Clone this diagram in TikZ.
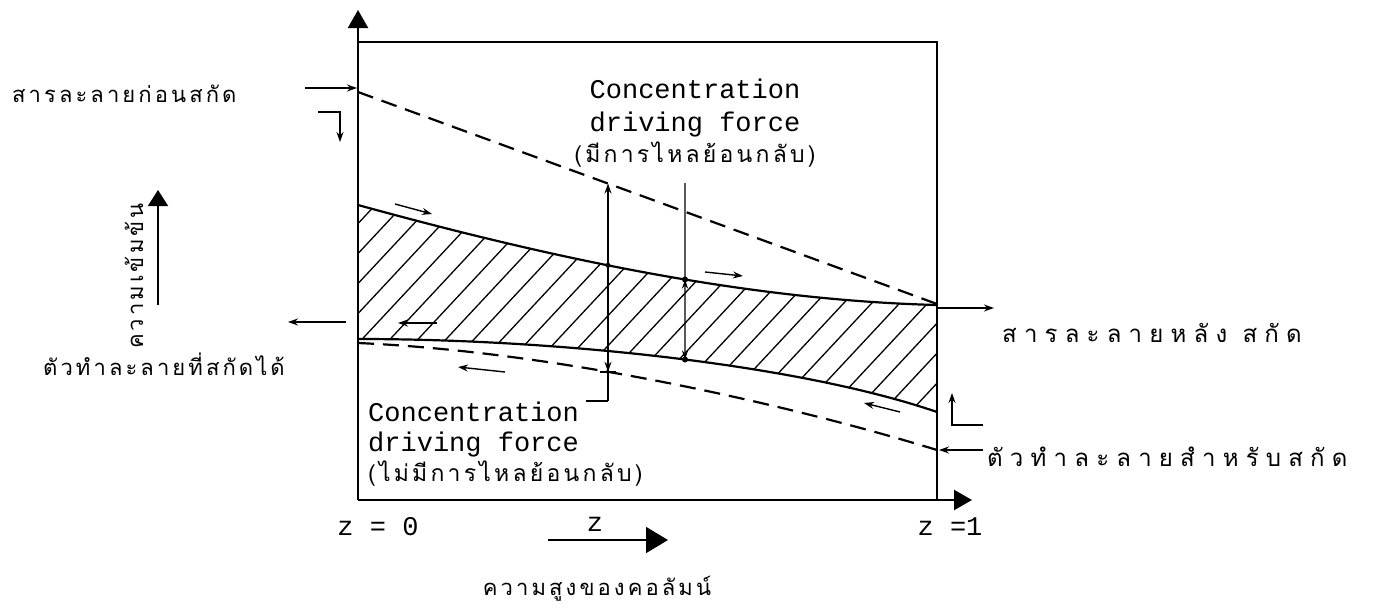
\documentclass[tikz,border=0pt]{standalone}
\usepackage{fontspec}
\setmainfont{Liberation Serif}
\setmonofont{Liberation Mono}
\newfontfamily\thaiwide[Script=Thai,LetterSpace=14]{Loma}
\newfontfamily\thaiwider[Script=Thai,LetterSpace=30]{Loma}
\usetikzlibrary{arrows.meta,intersections,calc}
\begin{document}
\begin{tikzpicture}[x=1pt,y=-1pt,
  frame/.style={line width=2.2pt},
  curve/.style={line width=2.2pt},
  dashcurve/.style={line width=2.2pt,dash pattern=on 16pt off 9pt},
  thinl/.style={line width=1.4pt},
  sarrow/.style={line width=1.4pt,-{Stealth[length=10pt,width=7pt]}},
  bigarrow/.style={line width=2.2pt,-{Triangle[length=18pt,width=20pt]}},
  hatch/.style={line width=1.3pt},
  thaitxt/.style={font=\thaiwide\fontsize{22}{24}\selectfont,inner sep=0pt},
  thaibig/.style={font=\thaiwider\fontsize{24}{26}\selectfont,inner sep=0pt},
  monotxt/.style={font=\ttfamily\fontsize{27}{30}\selectfont,inner sep=0pt},
]
\useasboundingbox (0,0) rectangle (1377,608);
\fill[white] (0,0) rectangle (1377,608);

% frame and axes
\coordinate (O) at (358,500);
\coordinate (Ytop) at (358,10);
\coordinate (Xend) at (972,500);
\coordinate (TL) at (358,42);
\coordinate (TR) at (937,42);
\coordinate (BR) at (937,500);
\draw[bigarrow] (O) -- (Ytop);
\draw[bigarrow] (O) -- (Xend);
\draw[frame] (TL) -- (TR) -- (BR);

% curves
\coordinate (uL) at (358,205);
\coordinate (uR) at (937,305);
\coordinate (lL) at (358,339);
\coordinate (lR) at (937,412);
\coordinate (udL) at (358,92);
\coordinate (udR) at (937,304);
\coordinate (ldL) at (358,343);
\coordinate (ldR) at (937,450);

\begin{scope}
  \clip (uL) .. controls (540,255) and (740,300) .. (uR) -- (lR)
        .. controls (800,365) and (560,339) .. (lL) -- cycle;
  \foreach \x in {100,128,...,1000} {
    \draw[hatch] (\x,440) -- (\x+224,200);
  }
\end{scope}

\draw[curve, name path=upc] (uL) .. controls (540,255) and (740,300) .. (uR);
\draw[curve, name path=loc] (lL) .. controls (560,339) and (800,365) .. (lR);
\draw[dashcurve, name path=upd] (udL) -- (udR);
\draw[dashcurve, name path=lod] (ldL) .. controls (560,352) and (790,405) .. (ldR);

% driving force lines
\path[name path=v1] (608,100) -- (608,520);
\path[name path=v2] (685,100) -- (685,520);
\path[name intersections={of=v1 and upd, by=a1}];
\path[name intersections={of=v1 and upc, by=b1}];
\path[name intersections={of=v1 and lod, by=c1}];
\path[name intersections={of=v2 and upc, by=a2}];
\path[name intersections={of=v2 and loc, by=b2}];

\node[monotxt, align=center] (dfup) at (695,123)
  {Concentration\\[3pt]driving force\\[1pt]{\thaiwide\fontsize{23}{26}\selectfont(มีการไหลย้อนกลับ)}};
\node[monotxt, align=left, anchor=west] (dflow) at (368,444)
  {Concentration\\driving force\\[0pt]{\thaiwide\fontsize{23}{26}\selectfont(ไม่มีการไหลย้อนกลับ)}};

\coordinate (k1) at (608,401);
\coordinate (k0) at (586,401);
\draw[thinl] (k0) -- (k1);
\draw[sarrow] (k1) -- (a1);
\fill (b1) circle (2.5pt);
\draw[sarrow] ($(c1)+(0,-18)$) -- (c1);
\draw[thinl] ($(c1)+(-8,0)$) -- ($(c1)+(8,0)$);

\coordinate (t2) at (685,183);
\draw[thinl] (t2) -- (a2);
\draw[thinl,{Stealth[length=9pt,width=6pt]}-{Stealth[length=9pt,width=6pt]}] (a2) -- (b2);
\fill (a2) circle (3pt);
\fill (b2) circle (3pt);

% small flow arrows
\coordinate (f1a) at (395,204); \coordinate (f1b) at (432,214);
\draw[sarrow] (f1a) -- (f1b);
\coordinate (f2a) at (705,272); \coordinate (f2b) at (743,276);
\draw[sarrow] (f2a) -- (f2b);
\coordinate (f3a) at (437,323); \coordinate (f3b) at (398,323);
\draw[sarrow] (f3a) -- (f3b);
\coordinate (f4a) at (505,372); \coordinate (f4b) at (458,367);
\draw[sarrow] (f4a) -- (f4b);
\coordinate (f5a) at (900,412); \coordinate (f5b) at (864,403);
\draw[sarrow] (f5a) -- (f5b);

% left side
\node[thaitxt, anchor=west] (feed) at (12,94) {สารละลายก่อนสกัด};
\coordinate (fa) at (305,88); \coordinate (fb) at (357,88);
\draw[sarrow] (fa) -- (fb);
\coordinate (g1) at (318,112); \coordinate (g2) at (340,112); \coordinate (g3) at (340,142);
\draw[sarrow] (g1) -- (g2) -- (g3);
\coordinate (ea) at (346,322); \coordinate (eb) at (288,322);
\draw[sarrow] (ea) -- (eb);
\node[thaitxt, anchor=west] (extract) at (43,364) {ตัวทำละลายที่สกัดได้};
\node[thaitxt, rotate=90] (conc) at (134,276) {ความเข้มข้น};
\coordinate (ca) at (158,305); \coordinate (cb) at (158,190);
\draw[line width=1.6pt,-{Triangle[length=16pt,width=20pt]}] (ca) -- (cb);

% right side
\coordinate (ra) at (937,308); \coordinate (rb) at (994,308);
\draw[sarrow] (ra) -- (rb);
\node[thaibig, anchor=west] (raff) at (1002,333) {สารละลายหลัง สกัด};
\coordinate (h1) at (983,425); \coordinate (h2) at (952,425); \coordinate (h3) at (952,393);
\draw[sarrow] (h1) -- (h2) -- (h3);
\coordinate (sa) at (983,450); \coordinate (sb) at (939,450);
\draw[sarrow] (sa) -- (sb);
\node[thaibig, anchor=west] (solv) at (987,457) {ตัวทำละลายสำหรับสกัด};

% bottom labels
\node[monotxt] (z0) at (378,527) {z = 0};
\node[monotxt] (zz) at (595,524) {z};
\node[monotxt] (z1) at (950,527) {z =1};
\coordinate (za) at (548,540); \coordinate (zb) at (668,540);
\draw[line width=1.6pt,-{Triangle[length=22pt,width=26pt]}] (za) -- (zb);
\node[thaitxt] (height) at (597,589) {ความสูงของคอลัมน์};
\end{tikzpicture}
\end{document}
